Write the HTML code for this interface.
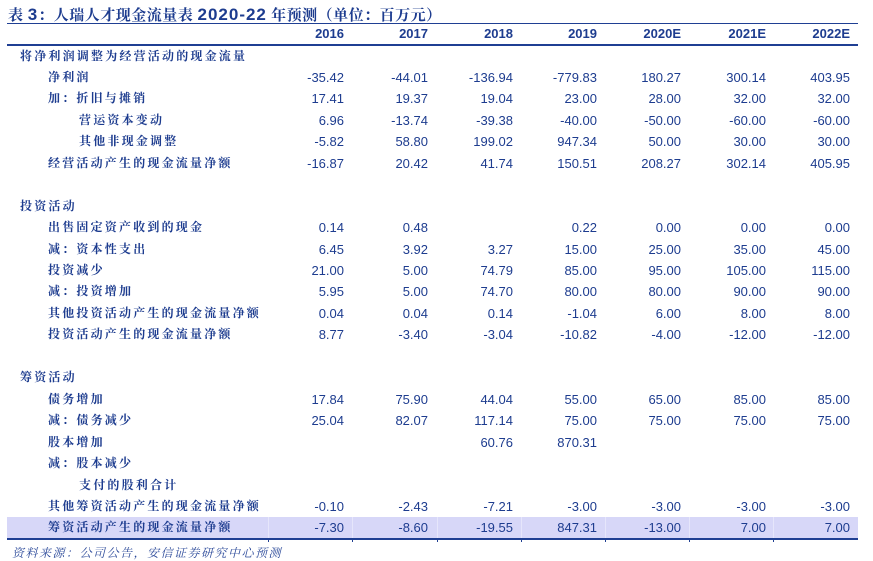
<!DOCTYPE html>
<html><head><meta charset="utf-8">
<style>
html,body{margin:0;padding:0;background:#fff;}
body{width:873px;height:551px;position:relative;overflow:hidden;font-family:"Liberation Sans","Noto Sans CJK SC",sans-serif;color:#1d3c8f;}
.t{position:absolute;left:8px;top:5px;height:20px;line-height:20px;white-space:nowrap;font-family:"Liberation Serif","Noto Serif CJK SC",serif;font-weight:bold;font-size:15px;letter-spacing:0.5px;color:#1d3c8f;}
.t b{font-family:"Liberation Sans",sans-serif;font-size:17px;letter-spacing:1px;}
.hl{position:absolute;left:7px;width:851px;background:#1f3f93;}
.hdr{position:absolute;top:23px;height:21px;line-height:21px;font-weight:bold;font-size:13px;text-align:right;width:80px;}
.r{position:absolute;left:0;width:873px;height:21px;line-height:21px;}
.l{position:absolute;white-space:nowrap;font-family:"Liberation Serif","Noto Serif CJK SC",serif;font-weight:bold;font-size:12px;letter-spacing:2.2px;}
.l0{left:20px}.l1{left:48px}.l2{left:79px}
.n{position:absolute;top:0;width:80px;text-align:right;font-size:13px;}
.c1{left:264px}.c2{left:348px}.c3{left:433px}.c4{left:517px}.c5{left:601px}.c6{left:686px}.c7{left:770px}
.band{position:absolute;left:7px;top:517px;width:851px;height:21px;background:#d7d7f8;}
.vs{position:absolute;top:517px;height:21px;width:1px;background:#e6e6fb;}
.tk{position:absolute;top:539px;height:3px;width:1px;background:#1f3f93;}
.src{position:absolute;left:12px;top:545px;font-family:"Liberation Serif","Noto Serif CJK SC",serif;font-style:italic;font-size:12px;letter-spacing:1.5px;line-height:16px;white-space:nowrap;color:#2c4a9a;}
</style></head><body>
<div class="t">表 <b>3</b>：人瑞人才现金流量表 <b>2020-22</b> 年预测（单位：百万元）</div>
<div class="hl" style="top:22.5px;height:1.6px"></div>
<div class="hl" style="top:44px;height:1.6px"></div>

<div class="hdr c1">2016</div><div class="hdr c2">2017</div><div class="hdr c3">2018</div><div class="hdr c4">2019</div><div class="hdr c5">2020E</div><div class="hdr c6">2021E</div><div class="hdr c7">2022E</div>

<div class="band"></div>
<div class="vs" style="left:268px"></div><div class="vs" style="left:352px"></div><div class="vs" style="left:437px"></div><div class="vs" style="left:521px"></div><div class="vs" style="left:605px"></div><div class="vs" style="left:689px"></div><div class="vs" style="left:773px"></div>
<div class="hl" style="top:537.8px;height:2px"></div>
<div class="tk" style="left:268px"></div><div class="tk" style="left:352px"></div><div class="tk" style="left:437px"></div><div class="tk" style="left:521px"></div><div class="tk" style="left:605px"></div><div class="tk" style="left:689px"></div><div class="tk" style="left:773px"></div>

<div class="r" style="top:45.5px"><span class="l l0">将净利润调整为经营活动的现金流量</span></div>
<div class="r" style="top:66.9px"><span class="l l1">净利润</span><span class="n c1">-35.42</span><span class="n c2">-44.01</span><span class="n c3">-136.94</span><span class="n c4">-779.83</span><span class="n c5">180.27</span><span class="n c6">300.14</span><span class="n c7">403.95</span></div>
<div class="r" style="top:88.4px"><span class="l l1">加：折旧与摊销</span><span class="n c1">17.41</span><span class="n c2">19.37</span><span class="n c3">19.04</span><span class="n c4">23.00</span><span class="n c5">28.00</span><span class="n c6">32.00</span><span class="n c7">32.00</span></div>
<div class="r" style="top:109.8px"><span class="l l2">营运资本变动</span><span class="n c1">6.96</span><span class="n c2">-13.74</span><span class="n c3">-39.38</span><span class="n c4">-40.00</span><span class="n c5">-50.00</span><span class="n c6">-60.00</span><span class="n c7">-60.00</span></div>
<div class="r" style="top:131.3px"><span class="l l2">其他非现金调整</span><span class="n c1">-5.82</span><span class="n c2">58.80</span><span class="n c3">199.02</span><span class="n c4">947.34</span><span class="n c5">50.00</span><span class="n c6">30.00</span><span class="n c7">30.00</span></div>
<div class="r" style="top:152.7px"><span class="l l1">经营活动产生的现金流量净额</span><span class="n c1">-16.87</span><span class="n c2">20.42</span><span class="n c3">41.74</span><span class="n c4">150.51</span><span class="n c5">208.27</span><span class="n c6">302.14</span><span class="n c7">405.95</span></div>

<div class="r" style="top:195.6px"><span class="l l0">投资活动</span></div>
<div class="r" style="top:217.1px"><span class="l l1">出售固定资产收到的现金</span><span class="n c1">0.14</span><span class="n c2">0.48</span><span class="n c4">0.22</span><span class="n c5">0.00</span><span class="n c6">0.00</span><span class="n c7">0.00</span></div>
<div class="r" style="top:238.5px"><span class="l l1">减：资本性支出</span><span class="n c1">6.45</span><span class="n c2">3.92</span><span class="n c3">3.27</span><span class="n c4">15.00</span><span class="n c5">25.00</span><span class="n c6">35.00</span><span class="n c7">45.00</span></div>
<div class="r" style="top:260.0px"><span class="l l1">投资减少</span><span class="n c1">21.00</span><span class="n c2">5.00</span><span class="n c3">74.79</span><span class="n c4">85.00</span><span class="n c5">95.00</span><span class="n c6">105.00</span><span class="n c7">115.00</span></div>
<div class="r" style="top:281.4px"><span class="l l1">减：投资增加</span><span class="n c1">5.95</span><span class="n c2">5.00</span><span class="n c3">74.70</span><span class="n c4">80.00</span><span class="n c5">80.00</span><span class="n c6">90.00</span><span class="n c7">90.00</span></div>
<div class="r" style="top:302.9px"><span class="l l1">其他投资活动产生的现金流量净额</span><span class="n c1">0.04</span><span class="n c2">0.04</span><span class="n c3">0.14</span><span class="n c4">-1.04</span><span class="n c5">6.00</span><span class="n c6">8.00</span><span class="n c7">8.00</span></div>
<div class="r" style="top:324.3px"><span class="l l1">投资活动产生的现金流量净额</span><span class="n c1">8.77</span><span class="n c2">-3.40</span><span class="n c3">-3.04</span><span class="n c4">-10.82</span><span class="n c5">-4.00</span><span class="n c6">-12.00</span><span class="n c7">-12.00</span></div>

<div class="r" style="top:367.2px"><span class="l l0">筹资活动</span></div>
<div class="r" style="top:388.7px"><span class="l l1">债务增加</span><span class="n c1">17.84</span><span class="n c2">75.90</span><span class="n c3">44.04</span><span class="n c4">55.00</span><span class="n c5">65.00</span><span class="n c6">85.00</span><span class="n c7">85.00</span></div>
<div class="r" style="top:410.1px"><span class="l l1">减：债务减少</span><span class="n c1">25.04</span><span class="n c2">82.07</span><span class="n c3">117.14</span><span class="n c4">75.00</span><span class="n c5">75.00</span><span class="n c6">75.00</span><span class="n c7">75.00</span></div>
<div class="r" style="top:431.6px"><span class="l l1">股本增加</span><span class="n c3">60.76</span><span class="n c4">870.31</span></div>
<div class="r" style="top:453.0px"><span class="l l1">减：股本减少</span></div>
<div class="r" style="top:474.5px"><span class="l l2">支付的股利合计</span></div>
<div class="r" style="top:495.9px"><span class="l l1">其他筹资活动产生的现金流量净额</span><span class="n c1">-0.10</span><span class="n c2">-2.43</span><span class="n c3">-7.21</span><span class="n c4">-3.00</span><span class="n c5">-3.00</span><span class="n c6">-3.00</span><span class="n c7">-3.00</span></div>
<div class="r" style="top:517.4px"><span class="l l1">筹资活动产生的现金流量净额</span><span class="n c1">-7.30</span><span class="n c2">-8.60</span><span class="n c3">-19.55</span><span class="n c4">847.31</span><span class="n c5">-13.00</span><span class="n c6">7.00</span><span class="n c7">7.00</span></div>

<div class="src">资料来源：公司公告，安信证券研究中心预测</div>
</body></html>
